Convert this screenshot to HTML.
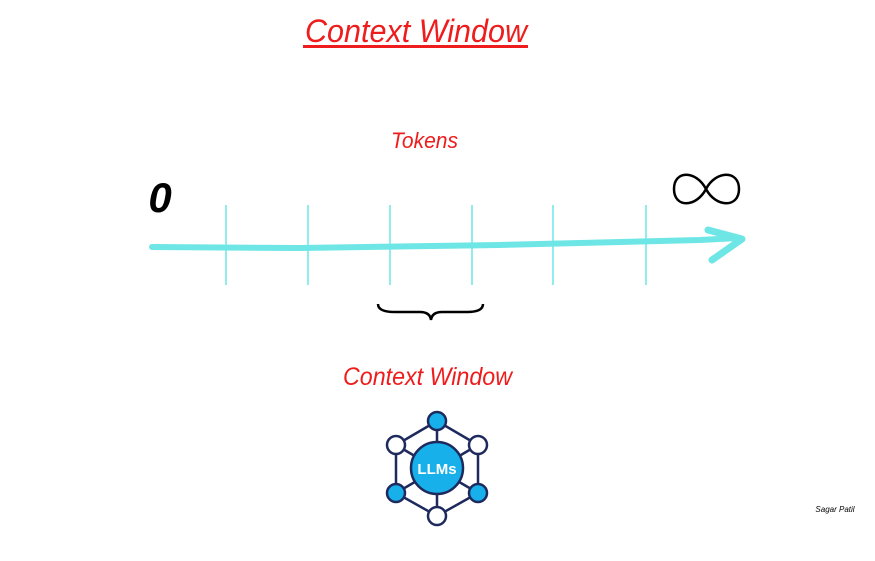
<!DOCTYPE html>
<html><head><meta charset="utf-8"><style>
html,body{margin:0;padding:0;background:#fff;}
svg{display:block;}
text{font-family:"Liberation Sans",sans-serif;}
</style></head><body>
<svg width="875" height="561" viewBox="0 0 875 561">
  <text x="305" y="42" font-size="32" fill="#ee1c1c" font-style="italic" textLength="222" lengthAdjust="spacingAndGlyphs">Context Window</text>
  <rect x="303" y="45" width="225" height="3" fill="#ee1c1c"/>
  <text x="391" y="148" font-size="22" fill="#ee1c1c" font-style="italic" textLength="67" lengthAdjust="spacingAndGlyphs">Tokens</text>
  <text x="160" y="212" text-anchor="middle" font-size="42" font-weight="bold" font-style="italic" fill="#000">0</text>
  <path d="M706,189 C696,170 674,170 674,189 C674,208 696,208 706,189 C716,170 739,170 739,189 C739,208 716,208 706,189 Z" stroke="#000" stroke-width="2.5" fill="none"/>
  <g stroke="#6ee6e6" stroke-width="1.5">
    <line x1="226" y1="205" x2="226" y2="285"/>
    <line x1="308" y1="205" x2="308" y2="285"/>
    <line x1="390" y1="205" x2="390" y2="285"/>
    <line x1="472" y1="205" x2="472" y2="285"/>
    <line x1="553" y1="205" x2="553" y2="285"/>
    <line x1="646" y1="205" x2="646" y2="285"/>
  </g>
  <path d="M152,247 L300,248 L500,245 L700,240 L738,238" stroke="#6ee6e6" stroke-width="6" fill="none" stroke-linecap="round"/>
  <path d="M708,230 L742,239 L712,260" stroke="#6ee6e6" stroke-width="7" fill="none" stroke-linecap="round" stroke-linejoin="round"/>
  <path d="M378,304 Q378,312 395,312 L420,312 Q430,312 431,320 Q432,312 442,312 L467,312 Q483,312 483,304" stroke="#000" stroke-width="2.5" fill="none"/>
  <text x="343" y="385" font-size="25" fill="#ee1c1c" font-style="italic" textLength="169" lengthAdjust="spacingAndGlyphs">Context Window</text>
  <g stroke="#1e2a5e" stroke-width="2.5">
    <polygon points="437,421 478,445 478,493 437,516 396,493 396,445" fill="none"/>
    <line x1="437" y1="421" x2="437" y2="516"/>
    <line x1="396" y1="445" x2="478" y2="493"/>
    <line x1="478" y1="445" x2="396" y2="493"/>
    <circle cx="437" cy="421" r="9" fill="#17b0ea"/>
    <circle cx="396" cy="445" r="9" fill="#fff"/>
    <circle cx="478" cy="445" r="9" fill="#fff"/>
    <circle cx="396" cy="493" r="9" fill="#17b0ea"/>
    <circle cx="478" cy="493" r="9" fill="#17b0ea"/>
    <circle cx="437" cy="516" r="9" fill="#fff"/>
    <circle cx="437" cy="468" r="26" fill="#17b0ea"/>
  </g>
  <text x="437" y="474" text-anchor="middle" font-size="15" font-weight="bold" fill="#fff">LLMs</text>
  <text x="835" y="512" text-anchor="middle" font-size="8" font-style="italic" fill="#000">Sagar Patil</text>
</svg>
</body></html>
